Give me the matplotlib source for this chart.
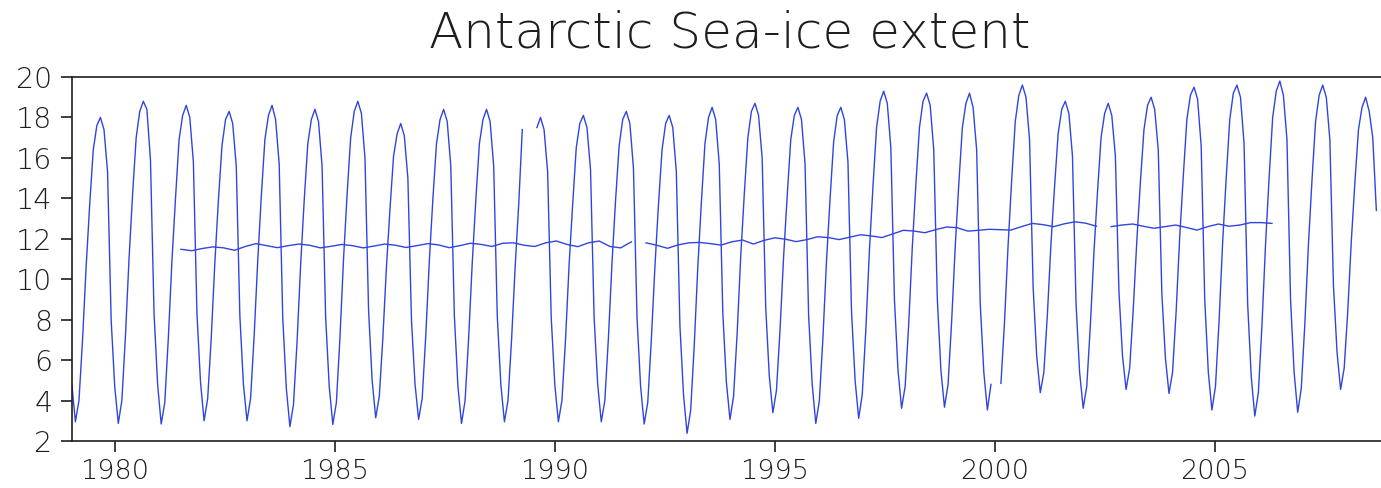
import numpy as np
import matplotlib
matplotlib.use("Agg")
import matplotlib.pyplot as plt

# -------------------------------
# DATA
# -------------------------------

# the monthly record is drawn in three pieces, each with its own start time
sample_step = 0.08125      # years between two monthly samples on the time axis

seg1_start = 1979.02       # Jan 1979 .. Jul 1989
ice_seg1 = [
    4.8, 2.95, 4.0, 7.0, 10.6, 13.7, 16.4, 17.6, 18.0, 17.4, 15.3, 8.0,   # 1979
    4.7, 2.87, 4.0, 7.2, 11.0, 14.2, 17.0, 18.3, 18.8, 18.4, 15.9, 8.3,   # 1980
    4.8, 2.84, 3.9, 7.1, 10.9, 14.0, 16.9, 18.1, 18.6, 18.0, 15.8, 8.3,   # 1981
    4.9, 3.0, 4.1, 7.1, 10.8, 13.9, 16.6, 17.9, 18.3, 17.7, 15.6, 8.2,    # 1982
    4.8, 3.0, 4.1, 7.2, 10.9, 14.1, 16.9, 18.1, 18.6, 17.9, 15.7, 8.1,    # 1983
    4.6, 2.71, 3.8, 6.9, 10.7, 13.9, 16.7, 17.9, 18.4, 17.8, 15.6, 8.1,   # 1984
    4.7, 2.82, 3.9, 7.1, 11.0, 14.2, 17.0, 18.3, 18.8, 18.2, 16.0, 8.5,   # 1985
    5.0, 3.15, 4.2, 7.1, 10.6, 13.5, 16.1, 17.2, 17.7, 17.1, 15.0, 8.0,   # 1986
    4.8, 3.07, 4.1, 7.2, 10.9, 14.0, 16.7, 17.9, 18.4, 17.8, 15.6, 8.2,   # 1987
    4.7, 2.87, 4.0, 7.1, 10.8, 13.9, 16.7, 17.9, 18.4, 17.8, 15.6, 8.2,   # 1988
    4.8, 2.95, 4.0, 7.0, 10.6, 13.7, 17.4,                                # 1989
]

seg2_start = 1989.59       # Aug 1989 .. Mar 2000
ice_seg2 = [
    17.5, 18.0, 17.4, 15.3, 8.1,                                          # 1989
    4.8, 2.95, 4.0, 7.0, 10.7, 13.7, 16.5, 17.7, 18.1, 17.5, 15.4, 8.1,   # 1990
    4.8, 2.95, 4.0, 7.1, 10.8, 13.9, 16.6, 17.9, 18.3, 17.7, 15.5, 8.1,   # 1991
    4.7, 2.84, 3.9, 7.0, 10.6, 13.7, 16.4, 17.7, 18.1, 17.5, 15.3, 7.7,   # 1992
    4.3, 2.38, 3.5, 6.7, 10.6, 13.8, 16.7, 18.0, 18.5, 17.9, 15.7, 8.3,   # 1993
    4.9, 3.07, 4.2, 7.3, 11.1, 14.2, 17.0, 18.3, 18.7, 18.1, 16.0, 8.6,   # 1994
    5.2, 3.40, 4.5, 7.5, 11.1, 14.1, 16.9, 18.1, 18.5, 17.9, 15.7, 8.2,   # 1995
    4.8, 2.87, 4.0, 7.1, 10.9, 14.0, 16.8, 18.1, 18.5, 17.9, 15.8, 8.4,   # 1996
    5.0, 3.12, 4.3, 7.5, 11.4, 14.6, 17.5, 18.8, 19.3, 18.7, 16.5, 9.0,   # 1997
    5.5, 3.62, 4.7, 7.8, 11.6, 14.7, 17.5, 18.8, 19.2, 18.6, 16.4, 9.0,   # 1998
    5.5, 3.67, 4.8, 7.9, 11.6, 14.7, 17.5, 18.7, 19.2, 18.5, 16.4, 8.8,   # 1999
    5.4, 3.53, 4.8,                                                       # 2000
]

seg3_start = 2000.136      # Mar 2000 .. Dec 2008
ice_seg3 = [
    4.85, 7.9, 11.7, 14.9, 17.8, 19.1, 19.6, 19.0, 16.9, 9.6,             # 2000
    6.2, 4.39, 5.4, 8.3, 11.8, 14.6, 17.2, 18.4, 18.8, 18.2, 16.1, 8.8,   # 2001
    5.4, 3.62, 4.7, 7.7, 11.3, 14.3, 17.0, 18.2, 18.7, 18.1, 16.1, 9.4,   # 2002
    6.2, 4.55, 5.6, 8.5, 11.9, 14.8, 17.4, 18.6, 19.0, 18.4, 16.4, 9.3,   # 2003
    6.1, 4.35, 5.4, 8.4, 12.1, 15.1, 17.9, 19.1, 19.5, 18.9, 16.6, 9.0,   # 2004
    5.4, 3.53, 4.7, 7.9, 11.8, 15.0, 17.9, 19.2, 19.6, 19.0, 16.7, 8.8,   # 2005
    5.2, 3.23, 4.4, 7.7, 11.7, 15.0, 18.0, 19.3, 19.8, 19.1, 16.9, 9.0,   # 2006
    5.4, 3.42, 4.6, 7.8, 11.7, 14.9, 17.8, 19.1, 19.6, 19.0, 16.9, 9.7,   # 2007
    6.4, 4.55, 5.6, 8.4, 11.9, 14.8, 17.4, 18.5, 19.0, 18.3, 17.0, 13.4,  # 2008
]

# smoothed curve, sampled every quarter
mean_step = 0.24375

mean1_start = 1981.50
mean_seg1 = [
    11.48, 11.41, 11.52, 11.60, 11.55, 11.43, 11.62, 11.76, 11.66, 11.56,
    11.66, 11.74, 11.68, 11.55, 11.63, 11.72, 11.66, 11.55, 11.64, 11.74,
    11.68, 11.57, 11.66, 11.76, 11.70, 11.56, 11.66, 11.78, 11.72, 11.62,
    11.78, 11.80, 11.68, 11.62, 11.80, 11.89, 11.72, 11.61, 11.80, 11.89,
    11.62, 11.55, 11.85,
]

mean2_start = 1992.07
mean_seg2 = [
    11.80, 11.68, 11.53, 11.70, 11.80, 11.82, 11.76, 11.69, 11.85, 11.94,
    11.74, 11.92, 12.05, 11.98, 11.86, 11.96, 12.10, 12.06, 11.96, 12.08,
    12.20, 12.14, 12.06, 12.24, 12.42, 12.38, 12.30, 12.45, 12.58, 12.55,
    12.38, 12.42, 12.47, 12.45, 12.43, 12.60, 12.76, 12.70, 12.60, 12.74,
    12.84, 12.77, 12.62,
]

mean3_start = 2002.64
mean_seg3 = [
    12.60, 12.68, 12.73, 12.62, 12.52, 12.60, 12.68, 12.56, 12.43, 12.60,
    12.73, 12.62, 12.68, 12.80, 12.80, 12.76,
]

year_ticks = [1980, 1985, 1990, 1995, 2000, 2005]
value_ticks = [2, 4, 6, 8, 10, 12, 14, 16, 18, 20]

# -------------------------------
# PLOT
# -------------------------------
line_color = "#3045dd"
text_color = "#1e1e1e"

plt.rcParams["font.family"] = ["DejaVu Sans"]

fig = plt.figure(figsize=(13.81, 4.88), dpi=100)
ax = fig.add_axes([0.0521, 0.0963, 0.9479, 0.7459])

for start, vals in [(seg1_start, ice_seg1), (seg2_start, ice_seg2), (seg3_start, ice_seg3)]:
    t = start + np.arange(len(vals)) * sample_step
    ax.plot(t, vals, color=line_color, lw=1.0)

for start, vals in [(mean1_start, mean_seg1), (mean2_start, mean_seg2), (mean3_start, mean_seg3)]:
    t = start + np.arange(len(vals)) * mean_step
    ax.plot(t, vals, color=line_color, lw=1.0)

ax.set_xlim(1979.023, 2008.773)
ax.set_ylim(2, 20)
ax.set_xticks(year_ticks)
ax.set_yticks(value_ticks)

ax.spines["right"].set_visible(False)
for s in ["left", "top", "bottom"]:
    ax.spines[s].set_linewidth(1.2)
    ax.spines[s].set_color(text_color)

ax.tick_params(direction="out", length=8, width=1.2, colors=text_color)
ax.tick_params(axis="y", pad=6, labelsize=20.5)
ax.tick_params(axis="x", pad=5, labelsize=19.5)
for lab in ax.get_xticklabels() + ax.get_yticklabels():
    lab.set_fontweight("light")

fig.text(0.5286, 0.931, "Antarctic Sea-ice extent", ha="center", va="center",
         fontsize=36, fontweight="light", color=text_color)

fig.savefig("out.png", dpi=100)
